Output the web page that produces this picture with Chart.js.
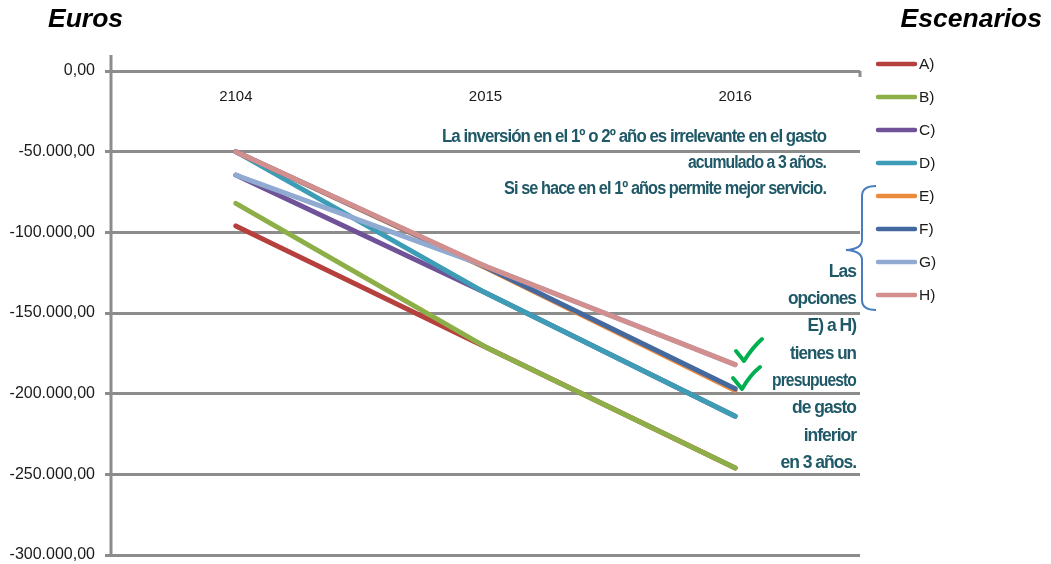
<!DOCTYPE html>
<html>
<head>
<meta charset="utf-8">
<script src="https://cdn.jsdelivr.net/npm/chart.js@4/dist/chart.umd.min.js"></script>
<style>
  html, body { margin: 0; padding: 0; background: #fff; }
  #wrap { width: 1051px; height: 564px; position: relative; }
</style>
</head>
<body>
<div id="wrap"><canvas id="c" width="1051" height="564"></canvas></div>
<script>
// Años del horizonte de gasto
const years = ['2104', '2015', '2016'];

// Gasto acumulado (euros) por escenario
const seriesA = [-96000, -171000, -246000];
const seriesB = [-82000, -171000, -246000];
const seriesC = [-64500, -137500, -214000];
const seriesD = [-50000, -137500, -214000];
const seriesE = [-50000, -122000, -198000];
const seriesF = [-50000, -121500, -197000];
const seriesG = [-64500, -121000, -182000];
const seriesH = [-50000, -121000, -182000];

const scenarioNames = ['A)', 'B)', 'C)', 'D)', 'E)', 'F)', 'G)', 'H)'];
const scenarioColors = ['#B5403D', '#8DAF47', '#6F5297', '#3E9DB6', '#EB8B3D', '#44699F', '#90AAD1', '#D28F8E'];
const allSeries = [seriesA, seriesB, seriesC, seriesD, seriesE, seriesF, seriesG, seriesH];

const yMin = -300000, yMax = 0, yStep = 50000;

const noteTop = [
  'La inversión en el 1º o 2º año es irrelevante en el gasto',
  'acumulado a 3 años.',
  'Si se hace en el 1º años permite mejor servicio.'
];
const noteRight = ['Las', 'opciones', 'E) a H)', 'tienes un', 'presupuesto', 'de gasto', 'inferior', 'en 3 años.'];

const fmt = new Intl.NumberFormat('de-DE', { minimumFractionDigits: 2, maximumFractionDigits: 2 });
const AXIS_GREY = '#8c8c8c';
const NOTE_COLOR = '#1F5866';
const LABEL_FONT = '"Liberation Sans", Arial, sans-serif';

function narrowText(ctx, text, x, y, align, width) {
  ctx.save();
  ctx.font = 'bold 17.5px "Liberation Sans Narrow", "Liberation Sans", Arial, sans-serif';
  ctx.fillStyle = NOTE_COLOR;
  ctx.textBaseline = 'middle';
  try { ctx.letterSpacing = '-1px'; } catch (e) {}
  const w = ctx.measureText(text).width;
  const sx = width ? Math.min(1, width / w) : 1;
  ctx.translate(x, y);
  ctx.scale(sx, 1);
  ctx.textAlign = align;
  ctx.fillText(text, 0, 0);
  ctx.restore();
}

const decor = {
  id: 'decor',
  afterDraw(chart) {
    const ctx = chart.ctx;
    const area = chart.chartArea;
    const xs = chart.scales.x;

    // axis line extends a little above the zero line
    ctx.save();
    ctx.strokeStyle = AXIS_GREY;
    ctx.lineWidth = 3;
    ctx.beginPath();
    ctx.moveTo(area.left, area.top - 16);
    ctx.lineTo(area.left, area.bottom);
    ctx.stroke();
    // end tick of the category axis
    ctx.beginPath();
    ctx.moveTo(area.right, area.top);
    ctx.lineTo(area.right, area.top + 6);
    ctx.stroke();
    ctx.restore();

    // category labels under the zero line
    ctx.save();
    ctx.font = '15px ' + LABEL_FONT;
    ctx.fillStyle = '#1a1a1a';
    ctx.textAlign = 'center';
    ctx.textBaseline = 'middle';
    years.forEach((y, i) => ctx.fillText(y, xs.getPixelForValue(i), area.top + 26));
    ctx.restore();

    // titles
    ctx.save();
    ctx.font = 'bold italic 26.5px ' + LABEL_FONT;
    ctx.fillStyle = '#000';
    ctx.textBaseline = 'middle';
    ctx.textAlign = 'left';
    ctx.fillText('Euros', 48, 20);
    ctx.textAlign = 'right';
    ctx.fillText('Escenarios', 1042, 20);
    ctx.restore();

    // legend
    ctx.save();
    chart.data.datasets.forEach((ds, i) => {
      const cy = 64 + i * 33;
      ctx.strokeStyle = ds.borderColor;
      ctx.lineWidth = 4.5;
      ctx.lineCap = 'round';
      ctx.beginPath();
      ctx.moveTo(878, cy);
      ctx.lineTo(915, cy);
      ctx.stroke();
      ctx.font = '15.5px ' + LABEL_FONT;
      ctx.fillStyle = '#1a1a1a';
      ctx.textAlign = 'left';
      ctx.textBaseline = 'middle';
      ctx.fillText(ds.label, 919, cy + 1);
    });
    ctx.restore();

    // notes
    narrowText(ctx, noteTop[0], 826, 137, 'right', 384);
    narrowText(ctx, noteTop[1], 826, 163, 'right', 138);
    narrowText(ctx, noteTop[2], 826, 189, 'right', 322);
    const rightWidths = [null, 68, null, 66, 84, 68, 57, 77];
    noteRight.forEach((t, i) => narrowText(ctx, t, 856, 272 + i * 27.3, 'right', rightWidths[i]));

    // brace grouping E) to H)
    ctx.save();
    ctx.strokeStyle = '#4A7CC0';
    ctx.lineWidth = 2;
    ctx.beginPath();
    ctx.moveTo(876, 186);
    ctx.quadraticCurveTo(862, 186, 862, 196);
    ctx.lineTo(862, 240);
    ctx.quadraticCurveTo(862, 249, 846, 250);
    ctx.quadraticCurveTo(862, 251, 862, 260);
    ctx.lineTo(862, 300);
    ctx.quadraticCurveTo(862, 310, 876, 310);
    ctx.stroke();
    ctx.restore();

    // check marks
    ctx.save();
    ctx.strokeStyle = '#00B050';
    ctx.lineWidth = 4;
    ctx.lineCap = 'round';
    ctx.lineJoin = 'round';
    ctx.beginPath();
    ctx.moveTo(736, 351);
    ctx.lineTo(744, 361);
    ctx.quadraticCurveTo(752, 348, 762, 339);
    ctx.stroke();
    ctx.beginPath();
    ctx.moveTo(733, 378);
    ctx.lineTo(742, 389);
    ctx.quadraticCurveTo(750, 375, 760, 367);
    ctx.stroke();
    ctx.restore();
  }
};

const datasets = allSeries.map((data, i) => ({
  label: scenarioNames[i],
  data: data,
  borderColor: scenarioColors[i],
  backgroundColor: scenarioColors[i],
  borderWidth: 5,
  borderCapStyle: 'round',
  borderJoinStyle: 'round',
  pointRadius: 0,
  tension: 0,
  fill: false,
  order: allSeries.length - i
}));

new Chart(document.getElementById('c'), {
  type: 'line',
  data: { labels: years, datasets },
  options: {
    responsive: false,
    animation: false,
    devicePixelRatio: 1,
    layout: { padding: { left: 0, top: 71, right: 191, bottom: 9 } },
    plugins: { legend: { display: false }, tooltip: { enabled: false } },
    scales: {
      x: { type: 'category', display: false, offset: true },
      y: {
        min: yMin,
        max: yMax,
        afterFit(scale) {
          scale.width = 111;
          scale.paddingTop = 0;
          scale.paddingBottom = 0;
        },
        border: { display: false },
        grid: {
          color: AXIS_GREY,
          lineWidth: 3,
          drawTicks: true,
          tickLength: 6
        },
        ticks: {
          stepSize: yStep,
          padding: 10,
          color: '#1a1a1a',
          font: { family: LABEL_FONT, size: 16 },
          callback: v => fmt.format(v)
        }
      }
    }
  },
  plugins: [decor]
});
</script>
</body>
</html>
